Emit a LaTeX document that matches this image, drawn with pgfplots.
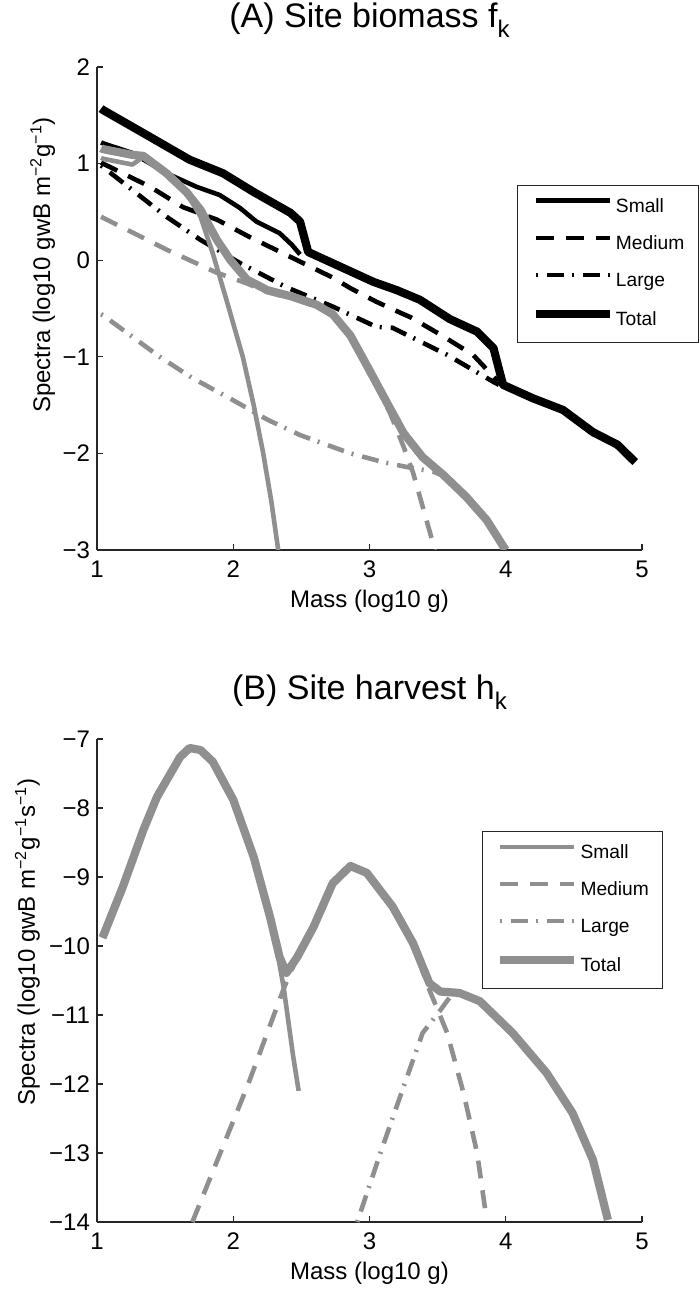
\documentclass[border=0pt]{standalone}
\usepackage{fontspec}
\setmainfont{Liberation Sans}
\usepackage{pgfplots}
\pgfplotsset{compat=1.18}
\definecolor{lg}{gray}{0.56}
\definecolor{ax}{gray}{0.15}
\newcommand{\subk}[1]{\raisebox{-5pt}{\fontsize{12}{14}\selectfont #1}}
\pgfplotsset{
 msty/.style={
  scale only axis, width=272.5pt, height=241.5pt,
  xmin=1, xmax=5,
  axis x line*=bottom, axis y line*=left,
  axis line style={-, ax, line width=0.6pt},
  tick align=inside, major tick length=3pt,
  tick style={ax, line width=0.6pt},
  xtick={1,2,3,4,5}, xticklabels={1,2,3,4,5},
  tick label style={font=\fontsize{12}{14}\selectfont, text=black},
  x tick label style={yshift=-2pt},
  label style={font=\fontsize{12}{14}\selectfont},
  xlabel={Mass (log10 g)},
  xlabel style={at={(axis description cs:0.5,-0.12)}, anchor=base},
  title style={at={(axis description cs:0.5,1.056)}, anchor=base, font=\fontsize{17}{20}\selectfont},
  legend style={draw=ax, line width=0.6pt, fill=white, font=\fontsize{9.6}{11}\selectfont,
    inner xsep=7pt, inner ysep=6.5pt, row sep=9.5pt, column sep=1pt,
    nodes={inner sep=0pt, text height=7pt, text depth=2pt}, cells={anchor=west}},
  legend image code/.code={\draw[#1] (0pt,3.4pt) -- (37pt,3.4pt);},
  legend cell align=left,
 },
 sm/.style={line width=2.3pt, line join=round},
 md/.style={line width=2.3pt, line join=round, dash pattern=on 9pt off 6pt},
 lgs/.style={line width=2.3pt, line join=round, dash pattern=on 1pt off 4.5pt on 8.5pt off 4pt},
 tt/.style={line width=4.1pt, line join=round},
}
\begin{document}
\begin{tikzpicture}
\useasboundingbox (0,0) rectangle (350pt,646pt);
\begin{axis}[msty, at={(48.5pt,371pt)}, anchor=south west,
  ymin=-3, ymax=2, ytick={-3,-2,-1,0,1,2}, yticklabels={−3,−2,−1,0,1,2},
  ylabel={Spectra (log10 gwB m\textsuperscript{−2}g\textsuperscript{−1})},
  ylabel style={at={(axis description cs:-0.0862,0.59)}, anchor=base},
  title={(A) Site biomass f\subk{k}},
  legend style={at={(0.771,0.756)}, anchor=north west}]
\addplot[black, sm] coordinates {(1.03,1.22)(1.044,1.21)(1.26,1.11)(1.51,0.90)(1.73,0.76)(1.90,0.675)(2.05,0.54)(2.17,0.40)(2.34,0.28)(2.43,0.16)(2.49,0.06)};
\addlegendentry{Small}
\addplot[black, md] coordinates {(1.03,1.01)(1.044,1.0)(1.39,0.76)(1.63,0.55)(1.88,0.42)(2.12,0.24)(2.44,0.02)(2.73,-0.18)(2.86,-0.29)(3.05,-0.43)(3.22,-0.54)(3.30,-0.59)(3.52,-0.77)(3.76,-0.98)(3.94,-1.25)};
\addlegendentry{Medium}
\addplot[black, lgs] coordinates {(1.03,0.98)(1.044,0.965)(1.51,0.45)(1.76,0.21)(2.05,-0.03)(2.39,-0.28)(2.73,-0.48)(3.05,-0.69)(3.17,-0.70)(3.57,-0.98)(3.91,-1.26)(3.95,-1.29)};
\addlegendentry{Large}
\addplot[black, tt] coordinates {(1.03,1.57)(1.044,1.555)(1.36,1.30)(1.68,1.04)(1.925,0.90)(2.145,0.71)(2.42,0.49)(2.49,0.40)(2.55,0.085)(2.79,-0.07)(3.03,-0.225)(3.2,-0.31)(3.37,-0.41)(3.59,-0.61)(3.79,-0.74)(3.91,-0.91)(3.98,-1.29)(4.2,-1.43)(4.42,-1.55)(4.64,-1.78)(4.82,-1.91)(4.95,-2.09)};
\addlegendentry{Total}
\addplot[lg, sm, forget plot] coordinates {(1.03,1.06)(1.044,1.05)(1.26,0.99)(1.34,1.07)(1.51,0.90)(1.66,0.69)(1.76,0.45)(1.85,0.07)(1.95,-0.41)(2.07,-1.0)(2.15,-1.5)(2.22,-2.0)(2.28,-2.5)(2.33,-3.0)};
\addplot[lg, md, forget plot] coordinates {(1.03,0.45)(1.044,0.44)(1.51,0.11)(1.88,-0.13)(2.10,-0.24)(2.25,-0.33)(2.44,-0.40)(2.61,-0.48)(2.73,-0.57)(2.86,-0.79)(3.0,-1.15)(3.15,-1.58)(3.25,-1.93)(3.32,-2.2)(3.39,-2.55)(3.48,-3.0)};
\addplot[lg, lgs, forget plot] coordinates {(1.03,-0.56)(1.044,-0.57)(1.46,-1.0)(1.7,-1.22)(2.0,-1.45)(2.25,-1.65)(2.49,-1.81)(2.86,-2.0)(3.1,-2.09)(3.27,-2.14)(3.47,-2.19)(3.54,-2.23)(3.71,-2.46)(3.86,-2.70)(3.99,-2.99)};
\addplot[lg, tt, forget plot] coordinates {(1.03,1.16)(1.044,1.15)(1.26,1.09)(1.34,1.08)(1.51,0.90)(1.66,0.70)(1.76,0.52)(1.88,0.21)(1.98,0.0)(2.10,-0.2)(2.25,-0.31)(2.44,-0.38)(2.61,-0.46)(2.73,-0.56)(2.86,-0.78)(3.0,-1.14)(3.13,-1.48)(3.25,-1.79)(3.39,-2.04)(3.54,-2.22)(3.71,-2.45)(3.86,-2.69)(3.99,-2.98)(4.0,-3.0)};
\end{axis}
\begin{axis}[msty, at={(48.5pt,35pt)}, anchor=south west,
  ymin=-14, ymax=-7, ytick={-14,-13,-12,-11,-10,-9,-8,-7}, yticklabels={−14,−13,−12,−11,−10,−9,−8,−7},
  ylabel={Spectra (log10 gwB m\textsuperscript{−2}g\textsuperscript{−1}s\textsuperscript{−1})},
  ylabel style={at={(axis description cs:-0.114,0.58)}, anchor=base},
  title={(B) Site harvest h\subk{k}},
  legend style={at={(0.706,0.8095)}, anchor=north west}]
\addplot[lg, sm] coordinates {(1.04,-9.88)(1.19,-9.14)(1.34,-8.32)(1.44,-7.84)(1.61,-7.26)(1.68,-7.13)(1.76,-7.16)(1.85,-7.33)(2.0,-7.88)(2.15,-8.71)(2.27,-9.6)(2.32,-10.05)(2.37,-10.6)(2.44,-11.6)(2.48,-12.1)};
\addlegendentry{Small}
\addplot[lg, md] coordinates {(1.70,-14.0)(2.11,-12.0)(2.37,-10.62)(2.42,-10.38)(2.47,-10.17)(2.59,-9.73)(2.73,-9.10)(2.86,-8.85)(2.98,-8.95)(3.17,-9.44)(3.32,-9.98)(3.44,-10.64)(3.50,-10.92)(3.57,-11.26)(3.69,-12.13)(3.79,-13.0)(3.86,-13.97)};
\addlegendentry{Medium}
\addplot[lg, lgs] coordinates {(2.91,-14.0)(3.08,-13.0)(3.25,-12.04)(3.39,-11.26)(3.52,-10.93)(3.59,-10.74)(3.66,-10.70)(3.81,-10.81)(4.05,-11.27)(4.30,-11.85)(4.49,-12.43)(4.64,-13.1)(4.75,-13.98)};
\addlegendentry{Large}
\addplot[lg, tt] coordinates {(1.04,-9.88)(1.19,-9.14)(1.34,-8.32)(1.44,-7.84)(1.61,-7.26)(1.68,-7.13)(1.76,-7.16)(1.85,-7.33)(2.0,-7.88)(2.15,-8.71)(2.27,-9.58)(2.34,-10.16)(2.39,-10.39)(2.47,-10.16)(2.59,-9.72)(2.73,-9.09)(2.86,-8.84)(2.98,-8.94)(3.17,-9.43)(3.32,-9.96)(3.44,-10.54)(3.52,-10.66)(3.66,-10.68)(3.81,-10.8)(4.05,-11.26)(4.30,-11.84)(4.49,-12.42)(4.64,-13.1)(4.75,-13.97)};
\addlegendentry{Total}
\end{axis}
\end{tikzpicture}
\end{document}
